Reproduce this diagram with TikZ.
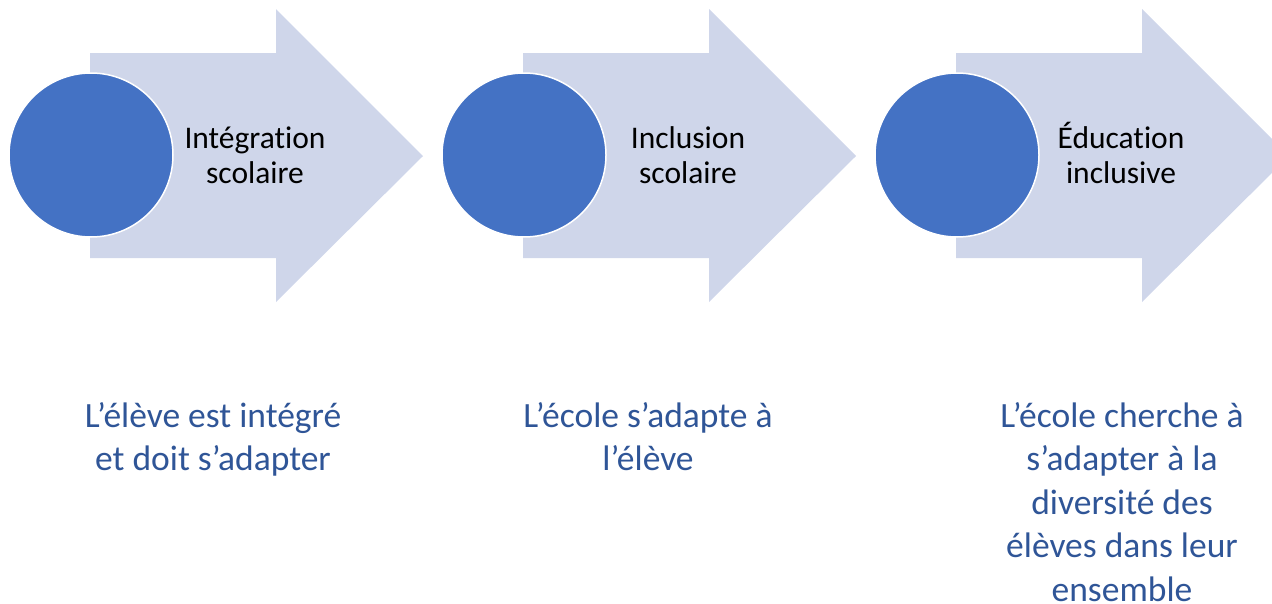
\documentclass[tikz,border=0pt]{standalone}
\usepackage{fontspec}
\setmainfont[Ligatures=NoCommon]{Carlito}
\usetikzlibrary{calc}

\definecolor{fleche}{HTML}{CFD6EA}
\definecolor{rond}{HTML}{4472C4}
\definecolor{texte}{HTML}{2F5597}

\tikzset{
    etape/.style={fill=fleche, draw=none},
    pastille/.style={circle, fill=rond, draw=white, line width=1.5pt, minimum size=164pt, inner sep=0pt},
    titre/.style={align=center, font=\fontsize{31.5}{35}\selectfont, text=black},
    legende/.style={align=center, anchor=north, inner sep=0pt, font=\fontsize{35.5}{43.5}\selectfont, text=texte}
}

\begin{document}
\begin{tikzpicture}[x=1pt, y=-1pt]
    \useasboundingbox (0,0) rectangle (1272,603);
    % les trois flèches
    \foreach \d in {0,433,866}{
        \fill[etape] (90+\d,53) -- (276+\d,53) -- (276+\d,9) -- (423+\d,156)
            -- (276+\d,302) -- (276+\d,258) -- (90+\d,258) -- cycle;
    }
    % les ronds
    \node[pastille] (R1) at (91,155) {};
    \node[pastille] (R2) at (524,155) {};
    \node[pastille] (R3) at (957,155) {};
    % titres des étapes
    \node[titre] (T1) at (255,155) {Intégration\\scolaire};
    \node[titre] (T2) at (688,155) {Inclusion\\scolaire};
    \node[titre] (T3) at (1121,153) {Éducation\\inclusive};
    % légendes
    \node[legende] (L1) at (213,402) {L’élève est intégré\\et doit s’adapter};
    \node[legende] (L2) at (648,402) {L’école s’adapte à\\l’élève};
    \node[legende] (L3) at (1122,402) {L’école cherche à\\s’adapter à la\\diversité des\\élèves dans leur\\ensemble};
\end{tikzpicture}
\end{document}
